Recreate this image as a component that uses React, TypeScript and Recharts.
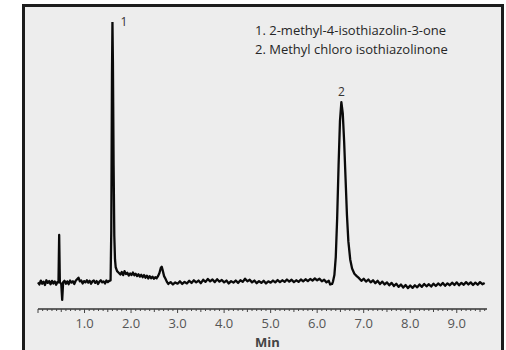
import React from 'react';
import { LineChart, Line, XAxis, YAxis, ReferenceDot, Label } from 'recharts';

// retention time (min), detector signal (relative units)
const baselineStart: [number, number][] = [
  [0.0, 0.2], [0.03, -0.6], [0.06, 0.9], [0.09, -0.3], [0.12, 0.5], [0.15, -0.8], [0.18, 1.0],
  [0.21, 0.0], [0.24, 0.7], [0.27, -0.5], [0.3, 0.8], [0.33, -0.2], [0.36, 0.6], [0.39, -0.7],
  [0.42, 0.4], [0.44, 0.2],
];

// injection artefact
const injectionSpike: [number, number][] = [
  [0.455, 18.4], [0.47, 0.3], [0.5, -0.4], [0.52, -6.5], [0.54, 0.2],
];

const baselineBeforePeak1: [number, number][] = [
  [0.57, 0.8], [0.6, -0.3], [0.63, 0.6], [0.66, -0.5], [0.69, 0.9], [0.72, 0.1], [0.75, 0.6],
  [0.78, -0.4], [0.81, 0.8], [0.84, 1.4], [0.87, 2.0], [0.9, 0.6], [0.93, 0.9], [0.96, -0.2],
  [0.99, 0.7], [1.02, 0.2], [1.05, 1.0], [1.08, 0.1], [1.11, 0.8], [1.14, -0.3], [1.17, 0.6],
  [1.2, 0.9], [1.23, 0.0], [1.26, 0.7], [1.29, -0.4], [1.32, 0.5], [1.35, 1.0], [1.38, 0.2],
  [1.41, 0.6], [1.44, -0.2], [1.47, 0.9], [1.5, 0.3], [1.53, 0.8],
];

const peak1: [number, number][] = [
  [1.56, 1.0], [1.575, 20], [1.59, 80], [1.6, 100], [1.61, 85], [1.625, 45], [1.64, 18],
  [1.655, 9], [1.67, 6], [1.7, 4.5], [1.74, 3.8],
];

const baselineAfterPeak1: [number, number][] = [
  [1.77, 3.2], [1.8, 4.2], [1.83, 3.0], [1.86, 4.5], [1.89, 3.4], [1.92, 3.9], [1.95, 2.8],
  [1.98, 3.6], [2.01, 3.0], [2.04, 4.0], [2.07, 2.9], [2.1, 3.5], [2.13, 2.6], [2.16, 3.3],
  [2.19, 2.4], [2.22, 3.1], [2.25, 2.2], [2.28, 3.0], [2.31, 2.0], [2.34, 2.8], [2.37, 1.7],
  [2.4, 2.6], [2.43, 1.8], [2.46, 2.4], [2.49, 1.6], [2.52, 2.2], [2.55, 1.8], [2.58, 2.6],
];

const smallBump: [number, number][] = [
  [2.61, 3.8], [2.64, 5.8], [2.66, 6.2], [2.68, 4.8], [2.71, 2.6], [2.74, 1.6],
];

const baselineMiddle: [number, number][] = [
  [2.77, 0.4], [2.8, -0.4], [2.85, 0.3], [2.9, -0.6], [2.95, 0.2], [3.0, -0.3], [3.05, 0.6],
  [3.1, -0.4], [3.15, 0.4], [3.2, -0.2], [3.25, 0.8], [3.3, 0.0], [3.35, 1.0], [3.4, 0.2],
  [3.45, 0.9], [3.5, -0.1], [3.55, 1.2], [3.6, 0.4], [3.65, 1.5], [3.7, 0.6], [3.75, 1.3],
  [3.8, 0.3], [3.85, 1.4], [3.9, 0.5], [3.95, 1.1], [4.0, 0.2], [4.05, 0.9], [4.1, -0.2],
  [4.15, 0.7], [4.2, 0.1], [4.25, 0.9], [4.3, 0.0], [4.35, 1.0], [4.4, 0.4], [4.45, 1.6],
  [4.5, 0.6], [4.55, 1.2], [4.6, 0.2], [4.65, 0.9], [4.7, -0.1], [4.75, 0.7], [4.8, 0.0],
  [4.85, 0.8], [4.9, -0.2], [4.95, 0.6], [5.0, 0.1], [5.05, 0.9], [5.1, 0.2], [5.15, 1.1],
  [5.2, 0.3], [5.25, 1.0], [5.3, 0.4], [5.35, 1.3], [5.4, 0.5], [5.45, 1.2], [5.5, 0.3],
  [5.55, 1.0], [5.6, 0.4], [5.65, 1.3], [5.7, 0.6], [5.75, 1.4], [5.8, 0.7], [5.85, 1.5],
  [5.9, 0.9], [5.95, 1.7], [6.0, 1.0], [6.05, 1.6], [6.1, 0.6], [6.15, 1.2], [6.2, 0.2],
  [6.25, 0.8], [6.28, -0.6], [6.32, -0.4],
];

const peak2: [number, number][] = [
  [6.34, 0.5], [6.37, 3], [6.4, 10], [6.43, 25], [6.46, 45], [6.49, 62], [6.52, 69.3],
  [6.55, 65], [6.58, 54], [6.61, 40], [6.64, 26], [6.67, 16], [6.71, 9], [6.75, 5.5],
  [6.8, 3.5], [6.85, 2.6],
];

const baselineEnd: [number, number][] = [
  [6.9, 1.8], [6.95, 0.8], [7.0, 1.6], [7.05, 0.5], [7.1, 1.3], [7.15, 0.2], [7.2, 1.0],
  [7.25, -0.1], [7.3, 0.8], [7.35, -0.4], [7.4, 0.5], [7.45, -0.6], [7.5, 0.2], [7.55, -0.9],
  [7.6, 0.0], [7.65, -1.2], [7.7, -0.3], [7.75, -1.5], [7.8, -0.6], [7.85, -1.8], [7.9, -0.8],
  [7.95, -2.0], [8.0, -1.0], [8.05, -1.9], [8.1, -0.9], [8.15, -1.7], [8.2, -0.6], [8.25, -1.5],
  [8.3, -0.4], [8.35, -1.3], [8.4, -0.5], [8.45, -1.4], [8.5, -0.3], [8.55, -1.2], [8.6, -0.2],
  [8.65, -1.0], [8.7, 0.0], [8.75, -1.1], [8.8, -0.2], [8.85, -0.9], [8.9, 0.1], [8.95, -0.8],
  [9.0, 0.2], [9.05, -0.9], [9.1, 0.0], [9.15, -0.7], [9.2, 0.3], [9.25, -0.6], [9.3, 0.2],
  [9.35, -0.8], [9.4, 0.1], [9.45, -0.7], [9.5, 0.3], [9.55, -0.5], [9.6, 0.0],
];

const peakLabels = [
  { t: 1.6, v: 100, name: '1' },
  { t: 6.52, v: 69.3, name: '2' },
];

const legendLines = ['1. 2-methyl-4-isothiazolin-3-one', '2. Methyl chloro isothiazolinone'];

const majorTicks = [1, 2, 3, 4, 5, 6, 7, 8, 9];
const minorTicks = Array.from({ length: 97 }, (_, i) => i / 10);

const data = [
  ...baselineStart,
  ...injectionSpike,
  ...baselineBeforePeak1,
  ...peak1,
  ...baselineAfterPeak1,
  ...smallBump,
  ...baselineMiddle,
  ...peak2,
  ...baselineEnd,
].map(([t, v]) => ({ t, v }));

const font = '"Open Sans", "Liberation Sans", sans-serif';

function AxisTick(props: any) {
  const { x, y, payload } = props;
  const v = payload.value;
  const isMajor = Math.abs(v - Math.round(v)) < 1e-6;
  const isHalf = Math.abs(v * 2 - Math.round(v * 2)) < 1e-6;
  const len = isMajor ? 4 : isHalf ? 3 : 2;
  return (
    <g>
      <line x1={x} x2={x} y1={y} y2={y + len} stroke="#444" strokeWidth={1} />
      {isMajor && majorTicks.includes(Math.round(v)) && (
        <text x={x} y={y + 19} textAnchor="middle" fontSize={13} fill="#555" fontFamily={font}>
          {v.toFixed(1)}
        </text>
      )}
    </g>
  );
}

export default function App() {
  return (
    <div style={{ position: 'absolute', left: 0, top: 0, width: 506, height: 350, background: '#fff', overflow: 'hidden' }}>
      <div
        style={{
          position: 'absolute',
          left: 22,
          top: 4,
          width: 476,
          height: 360,
          borderLeft: '3px solid #1c1c1c',
          borderRight: '3px solid #1c1c1c',
          borderTop: '3px solid #1c1c1c',
          background: '#ededed',
        }}
      />
      <div style={{ position: 'absolute', left: 0, top: 0 }}>
        <LineChart width={506} height={350} data={data} margin={{ top: 22, right: 19, left: 38, bottom: 11 }}>
          <XAxis
            dataKey="t"
            type="number"
            domain={[0, 9.65]}
            ticks={minorTicks}
            interval={0}
            tick={<AxisTick />}
            tickLine={false}
            tickSize={0}
            tickMargin={0}
            height={30}
            axisLine={{ stroke: '#333', strokeWidth: 1.5 }}
          >
            <Label value="Min" position="insideBottom" offset={-8} dx={5} fontSize={13} fontWeight="bold" fill="#444" fontFamily={font} />
          </XAxis>
          <YAxis hide domain={[-10, 100]} allowDataOverflow />
          <Line type="linear" dataKey="v" stroke="#0a0a0a" strokeWidth={2.3} strokeLinejoin="round" dot={false} isAnimationActive={false} />
          {peakLabels.map((p, i) => (
            <ReferenceDot
              key={p.name}
              x={p.t}
              y={p.v}
              r={0}
              stroke="none"
              label={{
                value: p.name,
                position: i === 0 ? 'right' : 'top',
                offset: i === 0 ? 8 : 6,
                fontSize: 12,
                fill: '#333',
                fontFamily: font,
              }}
            />
          ))}
        </LineChart>
      </div>
      <div style={{ position: 'absolute', left: 255, top: 21, fontFamily: font, fontSize: 13, lineHeight: '19px', color: '#262626' }}>
        {legendLines.map((l) => (
          <div key={l}>{l}</div>
        ))}
      </div>
    </div>
  );
}
